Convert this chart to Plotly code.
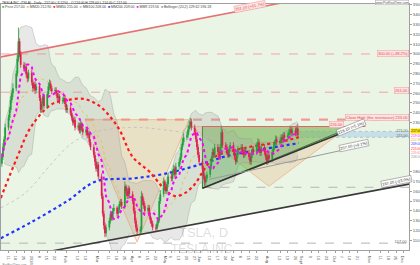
import numpy as np
import pandas as pd
import plotly.graph_objects as go

# ---------------- candles (weekdays 2023-12-05 .. 2024-08-28), one row per week ----------------
opens = [
 188,195,205,213,
 225,235,243,253,260,
 265,280,295,313,300,
 289,285,287,279,275,
 281,271,265,269,263,
 267,255,243,249,257,
 247,259,267,270,265,
 262,263,260,255,257,
 252,253,255,249,243,
 245,240,235,230,233,
 225,227,222,229,224,
 220,223,217,219,210,
 205,197,190,183,187,
 175,155,137,125,117,
 123,130,137,133,140,
 143,137,141,147,149,
 145,165,160,155,163,
 157,150,140,130,123,
 119,121,155,150,145,
 140,143,135,130,127,
 123,122,127,130,150,
 157,170,165,160,167,
 175,173,179,183,177,
 185,190,195,205,210,
 215,217,223,227,231,
 225,220,213,205,197,
 190,183,175,169,173,
 177,185,193,200,197,
 205,200,195,205,220,
 207,205,200,197,203,
 207,200,195,190,197,
 203,205,200,197,202,
 199,195,190,197,203,
 200,207,210,203,199,
 205,200,195,190,197,
 193,200,205,209,213,
 210,211,215,212,217,
 215,217,220,223,219,
 222,219,224]
highs = [
 199,209,216,229,
 238,246,257,263,270,
 283,299,327,316,303,
 292,291,290,282,284,
 284,274,272,272,270,
 269,258,252,260,259,
 262,271,274,273,268,
 266,266,263,260,259,
 256,258,258,251,248,
 248,243,238,236,236,
 230,230,232,231,227,
 226,225,222,221,213,
 208,200,193,190,190,
 178,158,140,128,126,
 133,140,139,143,147,
 145,144,150,152,152,
 170,167,163,166,165,
 160,153,143,133,126,
 124,160,158,153,148,
 146,146,138,133,130,
 126,130,133,154,161,
 174,172,168,170,179,
 178,182,187,186,189,
 193,199,208,214,219,
 221,227,232,235,234,
 228,223,216,208,200,
 193,186,178,176,180,
 188,196,204,203,208,
 208,203,208,227,223,
 210,208,203,206,210,
 210,203,198,200,206,
 208,208,203,205,205,
 202,198,200,206,206,
 210,214,213,206,208,
 208,203,198,200,200,
 203,208,212,217,216,
 214,218,218,220,220,
 220,223,227,226,225,
 225,227,229]
lows = [
 185,192,202,210,
 222,232,240,250,256,
 262,277,292,297,286,
 282,281,276,271,272,
 268,261,262,259,260,
 252,240,240,246,244,
 244,256,263,262,259,
 259,257,252,252,249,
 249,250,246,240,240,
 237,232,227,227,222,
 222,219,219,221,217,
 217,214,214,207,202,
 194,186,180,180,172,
 152,134,121,113,114,
 120,127,130,130,137,
 134,134,138,144,142,
 142,157,152,152,154,
 147,137,127,120,116,
 116,118,146,142,137,
 137,132,127,124,120,
 119,120,124,128,147,
 154,162,157,157,164,
 170,170,176,174,174,
 182,187,192,202,207,
 212,214,220,224,222,
 217,210,202,194,187,
 180,172,165,166,170,
 174,182,190,194,194,
 197,192,192,202,204,
 202,197,194,194,200,
 197,192,187,188,194,
 200,197,194,194,196,
 192,187,187,194,197,
 197,204,200,196,196,
 197,192,187,187,190,
 190,197,202,206,207,
 207,208,209,209,212,
 212,214,217,216,216,
 216,216,214]
closes = [
 195,205,213,225,
 235,243,253,260,265,
 280,295,313,300,289,
 285,287,279,275,281,
 271,265,269,263,267,
 255,243,249,257,247,
 259,267,270,265,262,
 263,260,255,257,252,
 253,255,249,243,245,
 240,235,230,233,225,
 227,222,229,224,220,
 223,217,219,210,205,
 197,190,183,187,175,
 155,137,125,117,123,
 130,137,133,140,143,
 137,141,147,149,145,
 165,160,155,163,157,
 150,140,130,123,119,
 121,155,150,145,140,
 143,135,130,127,123,
 122,127,130,150,157,
 170,165,160,167,175,
 173,179,183,177,185,
 190,195,205,210,215,
 217,223,227,231,225,
 220,213,205,197,190,
 183,175,169,173,177,
 185,193,200,197,205,
 200,195,205,220,207,
 205,200,197,203,207,
 200,195,190,197,203,
 205,200,197,202,199,
 195,190,197,203,200,
 207,210,203,199,205,
 200,195,190,197,193,
 200,205,209,213,210,
 211,215,212,217,215,
 217,220,223,219,222,
 219,224,217]
trade_days = pd.bdate_range("2023-12-05", "2024-08-28")
n = min(len(trade_days), len(closes), len(opens), len(highs), len(lows))
trade_days = trade_days[:n]

# ---------------- long moving averages ----------------
ma50_dates = ["2023-12-04","2023-12-19","2023-12-31","2024-01-18","2024-02-02","2024-02-18","2024-03-02",
              "2024-03-11","2024-03-20","2024-04-01","2024-04-16","2024-04-30","2024-05-09","2024-05-18",
              "2024-05-27","2024-06-05","2024-06-14","2024-07-15","2024-08-11","2024-08-29"]
ma50_vals = [153,195,225,248,253,254,247,237,223,195,180,162,155,158,167,183,195,205,210,215]
ma200_dates = ["2023-12-04","2023-12-31","2024-02-02","2024-02-28","2024-04-01","2024-05-01","2024-06-09",
               "2024-06-22","2024-08-29"]
ma200_vals = [112,128,150,170,173,178,190,195,209]
ma100_dates = ["2023-12-04","2023-12-26","2024-01-18","2024-02-04","2024-02-23","2024-03-30","2024-05-04",
               "2024-06-09","2024-07-15","2024-08-29"]
ma100_vals = [143,158,187,207,219,225,222,215,207,208]

# ---------------- drawing objects (dates / prices) ----------------
x_start, x_end = "2023-12-04 05:30", "2024-12-06 09:00"
chan_dates = [x_start, x_end]
chan_upper = [297.0, 377.1]
chan_lower = [89.3, 167.2]
res_levels = [300, 261, 233]
res_starts = [x_start, x_start, "2024-02-18"]
sup_levels = [164, 107]
sup_starts = ["2024-06-03", x_start]
tan1_x, tan1_y = ["2024-02-18", "2024-05-22", "2024-04-05"], [233, 233, 108]
tan2_x, tan2_y = ["2024-05-24", "2024-10-13", "2024-08-02"], [226, 226, 165]
tri_x, tri_y = ["2024-06-03", "2024-10-17", "2024-06-03"], [226, 226, 163]
top_line_x, top_line_y = ["2024-06-03", "2024-10-28"], [226, 226]
rise_x, rise_y = ["2024-06-03", "2024-10-26"], [163, 228]
gray_tl_x, gray_tl_y = ["2024-06-09", "2024-10-28"], [172, 207]
band_x, band_lo, band_hi = ["2024-08-29", x_end], 215, 221

fig = go.Figure()
skip = dict(hoverinfo="skip", showlegend=False)

# channel background
fig.add_trace(go.Scatter(x=chan_dates + chan_dates[::-1], y=chan_upper + chan_lower[::-1],
                         fill="toself", fillcolor="#eaf5e5", mode="lines", line=dict(width=0), **skip))
# horizontal levels
for lv, st, w, col in zip(res_levels, res_starts, [1, 1, 2.2], ["#f3a3a3", "#f3a3a3", "#f19a9a"]):
    fig.add_trace(go.Scatter(x=[st, x_end], y=[lv, lv], mode="lines",
                             line=dict(color=col, width=w, dash="dash"), **skip))
for lv, st in zip(sup_levels, sup_starts):
    fig.add_trace(go.Scatter(x=[st, x_end], y=[lv, lv], mode="lines",
                             line=dict(color="#b5b5b5", width=1, dash="dash"), **skip))
# blue band
fig.add_trace(go.Scatter(x=band_x + band_x[::-1], y=[band_hi, band_hi, band_lo, band_lo], fill="toself",
                         fillcolor="rgba(170,205,235,0.55)", mode="lines",
                         line=dict(color="#a9b9c9", width=0.8, dash="dot"), **skip))
# tan triangles
for tx, ty in [(tan1_x, tan1_y), (tan2_x, tan2_y)]:
    fig.add_trace(go.Scatter(x=tx + tx[:1], y=ty + ty[:1], fill="toself", fillcolor="rgba(232,190,140,0.35)",
                             mode="lines", line=dict(color="rgba(238,150,95,0.75)", width=0.7), **skip))
# green ascending triangle
fig.add_trace(go.Scatter(x=tri_x + tri_x[:1], y=tri_y + tri_y[:1], fill="toself",
                         fillcolor="rgba(80,180,70,0.45)", mode="lines",
                         line=dict(color="#2e7d32", width=1), **skip))

# Bollinger + short MAs computed from closes
cs = pd.Series(closes[:n], index=trade_days)
mid = cs.rolling(20, min_periods=3).mean()
sd = cs.rolling(20, min_periods=3).std(ddof=0)
bb = pd.DataFrame({"u": mid + 2 * sd, "l": mid - 2 * sd, "m": mid}).dropna()
fig.add_trace(go.Scatter(x=bb.index, y=bb["u"], mode="lines",
                         line=dict(color="rgba(140,140,140,0.55)", width=0.6), **skip))
fig.add_trace(go.Scatter(x=bb.index, y=bb["l"], mode="lines", fill="tonexty",
                         fillcolor="rgba(165,165,165,0.25)",
                         line=dict(color="rgba(140,140,140,0.55)", width=0.6), **skip))
fig.add_trace(go.Scatter(x=bb.index, y=bb["m"], mode="lines",
                         line=dict(color="#e3c23c", width=0.8, dash="dot"), **skip))
ma9 = cs.rolling(9, min_periods=1).mean()

# long MAs
fig.add_trace(go.Scatter(x=ma100_dates, y=ma100_vals, mode="lines", line=dict(color="#bdbdbd", width=0.8, dash="dot"), line_shape="spline", **skip))
fig.add_trace(go.Scatter(x=ma200_dates, y=ma200_vals, mode="lines", line=dict(color="#1f35ff", width=2.2, dash="dot"), line_shape="spline", **skip))
fig.add_trace(go.Scatter(x=ma50_dates, y=ma50_vals, mode="lines", line=dict(color="#ff1a1a", width=2.2, dash="dot"), line_shape="spline", **skip))

# upper / lower channel lines
fig.add_trace(go.Scatter(x=chan_dates, y=chan_upper, mode="lines", line=dict(color="#e57373", width=1.6), **skip))
fig.add_trace(go.Scatter(x=chan_dates, y=chan_lower, mode="lines", line=dict(color="#3a3a3a", width=1.6), **skip))

# candles drawn as wick + body segments (kept in the scatter layer so they sit above the fills)
cdf = pd.DataFrame({"d": trade_days, "o": opens[:n], "h": highs[:n], "l": lows[:n], "c": closes[:n]})
for up, col in [(True, "#1fa038"), (False, "#e0204f")]:
    sub = cdf[(cdf["c"] >= cdf["o"]) == up]
    wx, wy, bx, by = [], [], [], []
    for _, r in sub.iterrows():
        wx += [r["d"], r["d"], None]
        wy += [r["l"], r["h"], None]
        bx += [r["d"], r["d"], None]
        by += [r["o"], r["c"] if r["c"] != r["o"] else r["o"] + 0.6, None]
    fig.add_trace(go.Scatter(x=wx, y=wy, mode="lines", line=dict(color=col, width=0.8), **skip))
    fig.add_trace(go.Scatter(x=bx, y=by, mode="lines", line=dict(color=col, width=1.7), **skip))

fig.add_trace(go.Scatter(x=ma9.index, y=ma9.values, mode="lines", line=dict(color="#ff00ff", width=2, dash="dot"), **skip))

# triangle lines
fig.add_trace(go.Scatter(x=top_line_x, y=top_line_y, mode="lines", line=dict(color="#e06666", width=1.2), **skip))
fig.add_trace(go.Scatter(x=rise_x, y=rise_y, mode="lines", line=dict(color="#333333", width=1.6), **skip))
fig.add_trace(go.Scatter(x=gray_tl_x, y=gray_tl_y, mode="lines", line=dict(color="#9a9a9a", width=1), **skip))

# ---------------- axes ----------------
month_lbl = {1: "2024", 2: "Feb", 3: "Mar", 4: "Apr", 5: "May", 6: "Jun", 7: "Jul", 8: "Aug",
             9: "Sept", 10: "Oct", 11: "Nov", 12: "Dec"}
mstarts = pd.date_range("2024-01-01", "2024-12-01", freq="MS")
mondays = pd.date_range("2023-12-11", "2024-12-02", freq="W-MON")
ticks = [(d, month_lbl[d.month]) for d in mstarts]
for d in mondays:
    if min(abs((d - m).days) for m in mstarts) >= 5:
        ticks.append((d, str(d.day)))
ticks.sort()
y_ticks = [v for v in range(110, 351, 10) if v not in (190, 200, 210, 220)]

fig.update_layout(
    width=420, height=265, margin=dict(l=0, r=9, t=4, b=10),
    paper_bgcolor="white", plot_bgcolor="white", showlegend=False,
    font=dict(family="Liberation Sans, Arial, sans-serif", color="#444"),
    xaxis=dict(type="date", range=[x_start, x_end],
               tickvals=[t[0] for t in ticks], ticktext=[t[1] for t in ticks],
               tickfont=dict(size=4, color="#555"), showgrid=False, zeroline=False,
               showline=True, linecolor="#a0a0a0", linewidth=1, mirror=True,
               ticks="outside", ticklen=2, tickcolor="#a0a0a0"),
    yaxis=dict(range=[100, 351], side="right", tickvals=y_ticks,
               tickfont=dict(size=4.2, color="#555"), showgrid=False, zeroline=False,
               showline=True, linecolor="#a0a0a0", linewidth=1, mirror=True,
               ticks="outside", ticklen=2, tickcolor="#a0a0a0"),
)

last = closes[n - 1]
bbl = bb.iloc[-1]
anns = []
def A(**k):
    base = dict(showarrow=False, font=dict(size=4, color="#444"), borderpad=0.5)
    f = k.pop("font", {})
    base["font"] = {**base["font"], **f}
    base.update(k)
    anns.append(base)

# header
A(x=0, y=1.0165, xref="paper", yref="paper", xanchor="left", yanchor="top", borderpad=0,
  text=f"TESLA INC. (TSLA) - Daily - {last:.2f} (-3.12%) - O {opens[n-1]:.2f} H {highs[n-1]:.2f} L {lows[n-1]:.2f} C {last:.2f}",
  font=dict(size=3.3, color="#333"))
legend_txt = ("<span style='color:#2fbf4a'>■</span> Price %.2f  <span style='color:#e3c23c'>■</span> MM20 %.2f  "
              "<span style='color:#ff1a1a'>■</span> MM50 %.2f  <span style='color:#bdbdbd'>■</span> MM100 %.2f  "
              "<span style='color:#1f35ff'>■</span> MM200 %.2f  <span style='color:#ff00ff'>■</span> MM9 %.2f  "
              "<span style='color:#999'>■</span> Bollinger (20,2) %.2f %.2f") % (
    last, bbl["m"], ma50_vals[-1], ma100_vals[-1], ma200_vals[-1], ma9.iloc[-1], bbl["u"], bbl["l"])
A(x=0, y=0.986, xref="paper", yref="paper", xanchor="left", yanchor="middle", text=legend_txt, borderpad=0,
  bgcolor="white", font=dict(size=3.5, color="#444"))
A(x=1, y=1.0165, xref="paper", yref="paper", xanchor="right", yanchor="top", text="www.ProRealTime.com",
  bgcolor="white", bordercolor="#aaa", borderwidth=0.5, borderpad=0, font=dict(size=3.2, color="#555"))
A(x=0, y=-0.045, xref="paper", yref="paper", xanchor="left", yanchor="top", text="ProRealTime.com",
  font=dict(size=3, color="#888"))

pink = dict(bgcolor="#fde3e3", bordercolor="#f19a9a", borderwidth=0.5)
A(x="2024-07-16", y=348, text="351.20 (+61.7%)", textangle=-11, font=dict(color="#d9534f"), **pink)
A(x=1, xref="paper", xanchor="right", y=300, text="300.00 (+38.2%)", font=dict(color="#d9534f"), **pink)
A(x=1, xref="paper", xanchor="right", y=262.5, text="261.00", font=dict(color="#d9534f"), **pink)
A(x=1, xref="paper", xanchor="right", y=235, text="Close High (the resistance) 233.00",
  font=dict(color="#d9534f"), **pink)
A(x="2024-10-02", y=228.5, text="226.00", font=dict(color="#d9534f"), **pink)
box = dict(bgcolor="white", bordercolor="#777", borderwidth=0.5)
A(x="2024-10-15", y=225.5, text="228.10 (+5.1%)", textangle=-22, font=dict(color="#333"), **box)
A(x="2024-10-18", y=206.5, text="207.00 (+9.1%)", textangle=-12, font=dict(color="#333"), **box)
A(x="2024-11-25", y=169.5, text="167.20 (-23.0%)", textangle=-11, font=dict(color="#333"), **box)
A(x=1, xref="paper", xanchor="right", y=109.5, text="107.00", font=dict(color="#666"))
A(x=1, xref="paper", xanchor="right", y=221.6, text="221.00", font=dict(size=3.6, color="#666"))
A(x=1, xref="paper", xanchor="right", y=216.6, text="215.00", font=dict(size=3.6, color="#666"))

# right axis value tags
tags = [(221, f"{last:.2f}", "#222", "#ffe600"), (216.6, f"{ma9.iloc[-1]:.2f}", "#ff00ff", None),
        (212.2, f"{bbl['m']:.2f}", "#d4b000", None), (207.8, f"{ma200_vals[-1]:.2f}", "#1f35ff", None),
        (203.4, f"{ma50_vals[-1]:.2f}", "#ff1a1a", None), (199.0, f"{bbl['u']:.2f}", "#f08080", None),
        (194.6, f"{ma100_vals[-1]:.2f}", "#999", None)]
for yv, t, c, bg in tags:
    k = dict(x=1, xref="paper", xanchor="left", xshift=0.5, y=yv, text=t, borderpad=0,
             font=dict(size=3.4, color=c))
    if bg:
        k["bgcolor"] = bg
    A(**k)

# watermark
A(x="2024-06-04", y=118, text="TSLA, D", borderpad=0, font=dict(size=13, color="rgba(150,150,150,0.32)"))
A(x="2024-06-04", y=101.5, text="TESLA INC.", borderpad=0, font=dict(size=12, color="rgba(150,150,150,0.32)"))

fig.update_layout(annotations=anns)
fig.write_html("out.html")
